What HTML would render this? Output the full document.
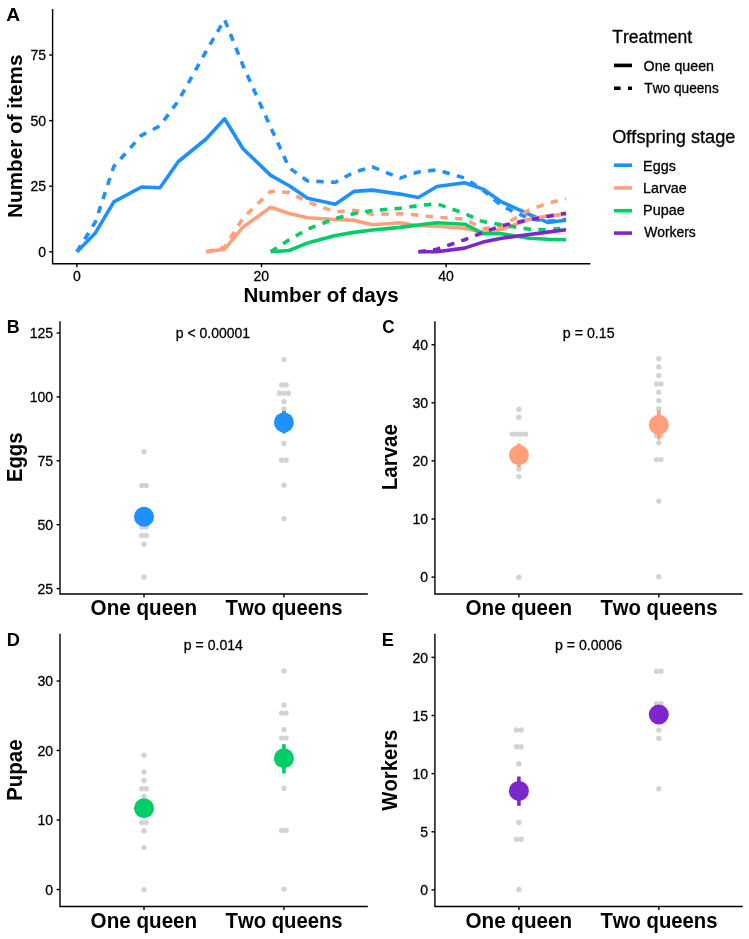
<!DOCTYPE html><html><head><meta charset="utf-8"><style>html,body{margin:0;padding:0;background:#fff;}svg{display:block;}svg{will-change:transform;}text{font-family:"Liberation Sans", sans-serif;font-kerning:none;}</style></head><body>
<svg width="749" height="939" viewBox="0 0 749 939">
<rect width="749" height="939" fill="#fff"/>
<g fill="none" stroke-linejoin="round" stroke-linecap="butt">
<polyline points="76.9,251.8 95.4,232.9 113.8,201.9 141.5,187.0 160.0,187.8 178.4,161.5 206.1,139.0 224.6,118.8 243.0,148.7 270.7,175.4 289.2,185.7 307.6,198.3 335.3,204.3 353.8,191.4 372.3,190.1 400.0,194.1 418.4,197.5 436.9,186.5 464.6,182.8 483.0,189.1 501.5,201.9 529.2,214.3 547.6,222.4 566.1,220.3" stroke="#1E90FF" stroke-width="3.6" />
<polyline points="76.9,251.8 95.4,221.9 113.8,166.5 141.5,135.3 160.0,125.8 178.4,100.7 206.1,51.3 224.6,19.6 243.0,65.5 270.7,127.4 289.2,167.8 307.6,181.0 335.3,182.3 353.8,172.3 372.3,166.8 400.0,178.1 418.4,172.0 436.9,169.9 464.6,178.1 483.0,190.1 501.5,205.9 529.2,218.7 547.6,221.4 566.1,219.3" stroke="#1E90FF" stroke-width="3.6" stroke-dasharray="7.4 7.4"/>
<polyline points="206.1,251.8 224.6,249.2 243.0,227.1 270.7,207.2 289.2,213.5 307.6,217.7 335.3,219.5 353.8,220.3 372.3,224.8 400.0,222.7 418.4,225.8 436.9,226.3 464.6,228.2 483.0,232.6 501.5,229.5 529.2,219.3 547.6,215.9 566.1,214.3" stroke="#FFA07A" stroke-width="3.6" />
<polyline points="206.1,251.8 224.6,247.1 243.0,218.0 270.7,191.2 289.2,192.5 307.6,201.9 335.3,211.9 353.8,210.3 372.3,214.3 400.0,213.8 418.4,215.1 436.9,217.2 464.6,219.3 483.0,228.7 501.5,226.1 529.2,210.1 547.6,203.3 566.1,198.8" stroke="#FFA07A" stroke-width="3.6" stroke-dasharray="7.4 7.4"/>
<polyline points="270.7,251.8 289.2,250.5 307.6,242.9 335.3,235.5 353.8,232.4 372.3,230.0 400.0,227.4 418.4,225.0 436.9,222.7 464.6,224.2 483.0,233.7 501.5,233.7 529.2,238.2 547.6,239.2 566.1,239.7" stroke="#00CD66" stroke-width="3.6" />
<polyline points="270.7,251.8 289.2,239.7 307.6,229.2 335.3,218.5 353.8,213.8 372.3,210.6 400.0,208.2 418.4,205.6 436.9,203.8 464.6,213.5 483.0,221.6 501.5,224.8 529.2,229.2 547.6,229.8 566.1,227.7" stroke="#00CD66" stroke-width="3.6" stroke-dasharray="7.4 7.4"/>
<polyline points="418.4,251.8 436.9,251.8 464.6,248.1 483.0,242.1 501.5,238.2 529.2,234.5 547.6,232.1 566.1,229.8" stroke="#7D26CD" stroke-width="3.6" />
<polyline points="418.4,251.8 436.9,249.2 464.6,239.7 483.0,232.6 501.5,225.8 529.2,219.8 547.6,216.4 566.1,213.2" stroke="#7D26CD" stroke-width="3.6" stroke-dasharray="7.4 7.4"/>
</g>
<g stroke="#000" stroke-width="1.4" fill="none" stroke-linecap="butt">
<path d="M52.6,9.0 V263.8 H590.4"/>
<line x1="49.2" x2="52.6" y1="251.8" y2="251.8"/>
<line x1="49.2" x2="52.6" y1="186.2" y2="186.2"/>
<line x1="49.2" x2="52.6" y1="120.6" y2="120.6"/>
<line x1="49.2" x2="52.6" y1="55.0" y2="55.0"/>
<line x1="76.9" x2="76.9" y1="263.8" y2="267.2"/>
<line x1="261.5" x2="261.5" y1="263.8" y2="267.2"/>
<line x1="446.1" x2="446.1" y1="263.8" y2="267.2"/>
</g>
<text transform="translate(38.23,257.05) scale(0.9500,1)" font-size="14.8" stroke="#000" stroke-width="0.3" fill="#000">0</text>
<text transform="translate(30.45,191.45) scale(0.9500,1)" font-size="14.8" stroke="#000" stroke-width="0.3" fill="#000">25</text>
<text transform="translate(30.41,125.85) scale(0.9500,1)" font-size="14.8" stroke="#000" stroke-width="0.3" fill="#000">50</text>
<text transform="translate(30.45,60.25) scale(0.9500,1)" font-size="14.8" stroke="#000" stroke-width="0.3" fill="#000">75</text>
<text transform="translate(72.99,280.60) scale(0.9500,1)" font-size="14.8" stroke="#000" stroke-width="0.3" fill="#000">0</text>
<text transform="translate(253.50,280.60) scale(0.9500,1)" font-size="14.8" stroke="#000" stroke-width="0.3" fill="#000">20</text>
<text transform="translate(438.29,280.60) scale(0.9500,1)" font-size="14.8" stroke="#000" stroke-width="0.3" fill="#000">40</text>
<text transform="translate(243.38,302.30) scale(1.0026,1)" font-size="20.5" font-weight="bold" fill="#000">Number of days</text>
<text transform="translate(22.00,217.94) rotate(-90) scale(0.9911,1)" font-size="20.9" font-weight="bold">Number of items</text>
<text transform="translate(6.17,20.80) scale(1.0507,1)" font-size="18.3" font-weight="bold" fill="#000">A</text>
<text transform="translate(612.26,43.00) scale(0.9965,1)" font-size="17.6" stroke="#000" stroke-width="0.3" fill="#000">Treatment</text>
<line x1="614" x2="632" y1="65.4" y2="65.4" stroke="#000" stroke-width="3.6"/>
<line x1="614" x2="632" y1="88.2" y2="88.2" stroke="#000" stroke-width="3.6" stroke-dasharray="6.6 7.4"/>
<text transform="translate(643.58,70.80) scale(1.0176,1)" font-size="14" stroke="#000" stroke-width="0.3" fill="#000">One queen</text>
<text transform="translate(644.34,92.90) scale(0.9768,1)" font-size="14" stroke="#000" stroke-width="0.3" fill="#000">Two queens</text>
<text transform="translate(612.19,143.20) scale(1.0337,1)" font-size="17.6" stroke="#000" stroke-width="0.3" fill="#000">Offspring stage</text>
<line x1="614" x2="632" y1="165.2" y2="165.2" stroke="#1E90FF" stroke-width="3.6"/>
<text transform="translate(643.07,170.50) scale(1.0279,1)" font-size="14" stroke="#000" stroke-width="0.3" fill="#000">Eggs</text>
<line x1="614" x2="632" y1="187.9" y2="187.9" stroke="#FFA07A" stroke-width="3.6"/>
<text transform="translate(643.08,192.50) scale(1.0186,1)" font-size="14" stroke="#000" stroke-width="0.3" fill="#000">Larvae</text>
<line x1="614" x2="632" y1="210.7" y2="210.7" stroke="#00CD66" stroke-width="3.6"/>
<text transform="translate(643.07,215.00) scale(1.0307,1)" font-size="14" stroke="#000" stroke-width="0.3" fill="#000">Pupae</text>
<line x1="614" x2="632" y1="233.1" y2="233.1" stroke="#7D26CD" stroke-width="3.6"/>
<text transform="translate(644.19,237.40) scale(0.9914,1)" font-size="14" stroke="#000" stroke-width="0.3" fill="#000">Workers</text>
<g stroke="#000" stroke-width="1.4" fill="none">
<path d="M60.0,321.2 V594.0 H367.8"/>
<line x1="56.6" x2="60.0" y1="588.6" y2="588.6"/>
<line x1="56.6" x2="60.0" y1="524.7" y2="524.7"/>
<line x1="56.6" x2="60.0" y1="460.8" y2="460.8"/>
<line x1="56.6" x2="60.0" y1="396.9" y2="396.9"/>
<line x1="56.6" x2="60.0" y1="333.0" y2="333.0"/>
<line x1="144.0" x2="144.0" y1="594.0" y2="597.4"/>
<line x1="283.9" x2="283.9" y1="594.0" y2="597.4"/>
</g>
<text transform="translate(37.55,593.95) scale(0.9500,1)" font-size="14.8" stroke="#000" stroke-width="0.3" fill="#000">25</text>
<text transform="translate(37.51,530.05) scale(0.9500,1)" font-size="14.8" stroke="#000" stroke-width="0.3" fill="#000">50</text>
<text transform="translate(37.55,466.15) scale(0.9500,1)" font-size="14.8" stroke="#000" stroke-width="0.3" fill="#000">75</text>
<text transform="translate(29.69,402.25) scale(0.9500,1)" font-size="14.8" stroke="#000" stroke-width="0.3" fill="#000">100</text>
<text transform="translate(29.73,338.35) scale(0.9500,1)" font-size="14.8" stroke="#000" stroke-width="0.3" fill="#000">125</text>
<text transform="translate(90.60,615.20) scale(0.9597,1)" font-size="21.5" font-weight="bold" fill="#000">One queen</text>
<text transform="translate(225.52,615.20) scale(0.9431,1)" font-size="21.5" font-weight="bold" fill="#000">Two queens</text>
<text transform="translate(22.00,482.11) rotate(-90) scale(0.9588,1)" font-size="21.2" font-weight="bold">Eggs</text>
<text transform="translate(6.85,333.30) scale(0.9767,1)" font-size="18.3" font-weight="bold" fill="#000">B</text>
<text transform="translate(175.75,337.50) scale(0.9594,1)" font-size="14.6" stroke="#000" stroke-width="0.3" fill="#000">p &lt; 0.00001</text>
<g fill="#D3D3D3">
<circle cx="144.0" cy="451.7" r="2.7"/>
<circle cx="141.8" cy="485.5" r="2.7"/>
<circle cx="146.2" cy="485.5" r="2.7"/>
<circle cx="144.0" cy="519.0" r="2.7"/>
<circle cx="141.8" cy="527.0" r="2.7"/>
<circle cx="146.2" cy="527.0" r="2.7"/>
<circle cx="141.8" cy="535.5" r="2.7"/>
<circle cx="146.2" cy="535.5" r="2.7"/>
<circle cx="144.0" cy="544.2" r="2.7"/>
<circle cx="144.0" cy="577.0" r="2.7"/>
<circle cx="283.9" cy="359.6" r="2.7"/>
<circle cx="281.6" cy="384.9" r="2.7"/>
<circle cx="286.1" cy="384.9" r="2.7"/>
<circle cx="279.4" cy="393.3" r="2.7"/>
<circle cx="283.9" cy="393.3" r="2.7"/>
<circle cx="288.4" cy="393.3" r="2.7"/>
<circle cx="283.9" cy="401.7" r="2.7"/>
<circle cx="283.9" cy="409.0" r="2.7"/>
<circle cx="283.9" cy="443.5" r="2.7"/>
<circle cx="281.6" cy="460.2" r="2.7"/>
<circle cx="286.1" cy="460.2" r="2.7"/>
<circle cx="283.9" cy="485.2" r="2.7"/>
<circle cx="283.9" cy="518.6" r="2.7"/>
</g>
<circle cx="144.0" cy="516.7" r="10" fill="#1E90FF"/>
<line x1="283.9" x2="283.9" y1="410.9" y2="433.5" stroke="#1E90FF" stroke-width="3.6"/>
<circle cx="283.9" cy="422.4" r="10" fill="#1E90FF"/>
<g stroke="#000" stroke-width="1.4" fill="none">
<path d="M434.9,321.2 V594.0 H742.7"/>
<line x1="431.5" x2="434.9" y1="577.1" y2="577.1"/>
<line x1="431.5" x2="434.9" y1="519.0" y2="519.0"/>
<line x1="431.5" x2="434.9" y1="460.9" y2="460.9"/>
<line x1="431.5" x2="434.9" y1="402.8" y2="402.8"/>
<line x1="431.5" x2="434.9" y1="344.7" y2="344.7"/>
<line x1="518.9" x2="518.9" y1="594.0" y2="597.4"/>
<line x1="658.8" x2="658.8" y1="594.0" y2="597.4"/>
</g>
<text transform="translate(420.23,582.45) scale(0.9500,1)" font-size="14.8" stroke="#000" stroke-width="0.3" fill="#000">0</text>
<text transform="translate(412.41,524.35) scale(0.9500,1)" font-size="14.8" stroke="#000" stroke-width="0.3" fill="#000">10</text>
<text transform="translate(412.41,466.25) scale(0.9500,1)" font-size="14.8" stroke="#000" stroke-width="0.3" fill="#000">20</text>
<text transform="translate(412.41,408.15) scale(0.9500,1)" font-size="14.8" stroke="#000" stroke-width="0.3" fill="#000">30</text>
<text transform="translate(412.41,350.05) scale(0.9500,1)" font-size="14.8" stroke="#000" stroke-width="0.3" fill="#000">40</text>
<text transform="translate(465.50,615.20) scale(0.9597,1)" font-size="21.5" font-weight="bold" fill="#000">One queen</text>
<text transform="translate(600.42,615.20) scale(0.9431,1)" font-size="21.5" font-weight="bold" fill="#000">Two queens</text>
<text transform="translate(397.10,490.32) rotate(-90) scale(0.9695,1)" font-size="21.2" font-weight="bold">Larvae</text>
<text transform="translate(382.25,333.30) scale(0.9361,1)" font-size="18.3" font-weight="bold" fill="#000">C</text>
<text transform="translate(562.83,337.60) scale(0.9744,1)" font-size="14.6" stroke="#000" stroke-width="0.3" fill="#000">p = 0.15</text>
<g fill="#D3D3D3">
<circle cx="518.9" cy="409.2" r="2.7"/>
<circle cx="518.9" cy="417.3" r="2.7"/>
<circle cx="512.1" cy="434.1" r="2.7"/>
<circle cx="516.6" cy="434.1" r="2.7"/>
<circle cx="521.1" cy="434.1" r="2.7"/>
<circle cx="525.6" cy="434.1" r="2.7"/>
<circle cx="518.9" cy="468.9" r="2.7"/>
<circle cx="518.9" cy="476.6" r="2.7"/>
<circle cx="518.9" cy="577.2" r="2.7"/>
<circle cx="658.8" cy="358.7" r="2.7"/>
<circle cx="658.8" cy="367.0" r="2.7"/>
<circle cx="658.8" cy="375.6" r="2.7"/>
<circle cx="656.5" cy="383.9" r="2.7"/>
<circle cx="661.0" cy="383.9" r="2.7"/>
<circle cx="658.8" cy="392.2" r="2.7"/>
<circle cx="658.8" cy="400.6" r="2.7"/>
<circle cx="658.8" cy="408.8" r="2.7"/>
<circle cx="656.5" cy="435.4" r="2.7"/>
<circle cx="661.0" cy="435.4" r="2.7"/>
<circle cx="658.8" cy="442.7" r="2.7"/>
<circle cx="656.5" cy="459.6" r="2.7"/>
<circle cx="661.0" cy="459.6" r="2.7"/>
<circle cx="658.8" cy="501.1" r="2.7"/>
<circle cx="658.8" cy="576.8" r="2.7"/>
</g>
<line x1="518.9" x2="518.9" y1="443.6" y2="467.3" stroke="#FFA07A" stroke-width="3.6"/>
<circle cx="518.9" cy="455.1" r="10" fill="#FFA07A"/>
<line x1="658.8" x2="658.8" y1="410.1" y2="439.5" stroke="#FFA07A" stroke-width="3.6"/>
<circle cx="658.8" cy="424.8" r="10" fill="#FFA07A"/>
<g stroke="#000" stroke-width="1.4" fill="none">
<path d="M60.0,633.7 V906.5 H367.8"/>
<line x1="56.6" x2="60.0" y1="889.5" y2="889.5"/>
<line x1="56.6" x2="60.0" y1="820.0" y2="820.0"/>
<line x1="56.6" x2="60.0" y1="750.5" y2="750.5"/>
<line x1="56.6" x2="60.0" y1="681.0" y2="681.0"/>
<line x1="144.0" x2="144.0" y1="906.5" y2="909.9"/>
<line x1="283.9" x2="283.9" y1="906.5" y2="909.9"/>
</g>
<text transform="translate(45.33,894.85) scale(0.9500,1)" font-size="14.8" stroke="#000" stroke-width="0.3" fill="#000">0</text>
<text transform="translate(37.51,825.35) scale(0.9500,1)" font-size="14.8" stroke="#000" stroke-width="0.3" fill="#000">10</text>
<text transform="translate(37.51,755.85) scale(0.9500,1)" font-size="14.8" stroke="#000" stroke-width="0.3" fill="#000">20</text>
<text transform="translate(37.51,686.35) scale(0.9500,1)" font-size="14.8" stroke="#000" stroke-width="0.3" fill="#000">30</text>
<text transform="translate(90.60,927.70) scale(0.9597,1)" font-size="21.5" font-weight="bold" fill="#000">One queen</text>
<text transform="translate(225.52,927.70) scale(0.9431,1)" font-size="21.5" font-weight="bold" fill="#000">Two queens</text>
<text transform="translate(22.10,800.82) rotate(-90) scale(0.9662,1)" font-size="21.2" font-weight="bold">Pupae</text>
<text transform="translate(6.83,645.80) scale(0.9979,1)" font-size="18.3" font-weight="bold" fill="#000">D</text>
<text transform="translate(183.84,650.40) scale(0.9629,1)" font-size="14.6" stroke="#000" stroke-width="0.3" fill="#000">p = 0.014</text>
<g fill="#D3D3D3">
<circle cx="144.0" cy="755.2" r="2.7"/>
<circle cx="144.0" cy="771.9" r="2.7"/>
<circle cx="144.0" cy="780.5" r="2.7"/>
<circle cx="141.8" cy="788.7" r="2.7"/>
<circle cx="146.2" cy="788.7" r="2.7"/>
<circle cx="144.0" cy="796.5" r="2.7"/>
<circle cx="141.8" cy="822.6" r="2.7"/>
<circle cx="146.2" cy="822.6" r="2.7"/>
<circle cx="144.0" cy="830.8" r="2.7"/>
<circle cx="144.0" cy="847.6" r="2.7"/>
<circle cx="144.0" cy="889.7" r="2.7"/>
<circle cx="283.9" cy="671.0" r="2.7"/>
<circle cx="283.9" cy="704.9" r="2.7"/>
<circle cx="281.6" cy="713.1" r="2.7"/>
<circle cx="286.1" cy="713.1" r="2.7"/>
<circle cx="283.9" cy="729.6" r="2.7"/>
<circle cx="281.6" cy="738.1" r="2.7"/>
<circle cx="286.1" cy="738.1" r="2.7"/>
<circle cx="283.9" cy="788.3" r="2.7"/>
<circle cx="281.6" cy="830.4" r="2.7"/>
<circle cx="286.1" cy="830.4" r="2.7"/>
<circle cx="283.9" cy="889.1" r="2.7"/>
</g>
<circle cx="144.0" cy="808.2" r="10" fill="#00CD66"/>
<line x1="283.9" x2="283.9" y1="744.2" y2="773.5" stroke="#00CD66" stroke-width="3.6"/>
<circle cx="283.9" cy="758.2" r="10" fill="#00CD66"/>
<g stroke="#000" stroke-width="1.4" fill="none">
<path d="M434.9,633.7 V906.5 H742.7"/>
<line x1="431.5" x2="434.9" y1="889.9" y2="889.9"/>
<line x1="431.5" x2="434.9" y1="831.8" y2="831.8"/>
<line x1="431.5" x2="434.9" y1="773.6" y2="773.6"/>
<line x1="431.5" x2="434.9" y1="715.5" y2="715.5"/>
<line x1="431.5" x2="434.9" y1="657.4" y2="657.4"/>
<line x1="518.9" x2="518.9" y1="906.5" y2="909.9"/>
<line x1="658.8" x2="658.8" y1="906.5" y2="909.9"/>
</g>
<text transform="translate(420.23,895.25) scale(0.9500,1)" font-size="14.8" stroke="#000" stroke-width="0.3" fill="#000">0</text>
<text transform="translate(420.27,837.12) scale(0.9500,1)" font-size="14.8" stroke="#000" stroke-width="0.3" fill="#000">5</text>
<text transform="translate(412.41,779.00) scale(0.9500,1)" font-size="14.8" stroke="#000" stroke-width="0.3" fill="#000">10</text>
<text transform="translate(412.45,720.88) scale(0.9500,1)" font-size="14.8" stroke="#000" stroke-width="0.3" fill="#000">15</text>
<text transform="translate(412.41,662.75) scale(0.9500,1)" font-size="14.8" stroke="#000" stroke-width="0.3" fill="#000">20</text>
<text transform="translate(465.50,927.70) scale(0.9597,1)" font-size="21.5" font-weight="bold" fill="#000">One queen</text>
<text transform="translate(600.42,927.70) scale(0.9431,1)" font-size="21.5" font-weight="bold" fill="#000">Two queens</text>
<text transform="translate(397.20,810.67) rotate(-90) scale(0.9554,1)" font-size="21.2" font-weight="bold">Workers</text>
<text transform="translate(381.73,645.80) scale(0.9935,1)" font-size="18.3" font-weight="bold" fill="#000">E</text>
<text transform="translate(555.04,650.30) scale(0.9671,1)" font-size="14.6" stroke="#000" stroke-width="0.3" fill="#000">p = 0.0006</text>
<g fill="#D3D3D3">
<circle cx="516.6" cy="730.0" r="2.7"/>
<circle cx="521.1" cy="730.0" r="2.7"/>
<circle cx="516.6" cy="746.8" r="2.7"/>
<circle cx="521.1" cy="746.8" r="2.7"/>
<circle cx="518.9" cy="763.7" r="2.7"/>
<circle cx="518.9" cy="822.5" r="2.7"/>
<circle cx="516.6" cy="839.3" r="2.7"/>
<circle cx="521.1" cy="839.3" r="2.7"/>
<circle cx="518.9" cy="889.5" r="2.7"/>
<circle cx="656.5" cy="671.2" r="2.7"/>
<circle cx="661.0" cy="671.2" r="2.7"/>
<circle cx="656.5" cy="703.7" r="2.7"/>
<circle cx="661.0" cy="703.7" r="2.7"/>
<circle cx="658.8" cy="730.1" r="2.7"/>
<circle cx="658.8" cy="738.4" r="2.7"/>
<circle cx="658.8" cy="788.7" r="2.7"/>
</g>
<line x1="518.9" x2="518.9" y1="776.5" y2="805.8" stroke="#7D26CD" stroke-width="3.6"/>
<circle cx="518.9" cy="790.9" r="10" fill="#7D26CD"/>
<circle cx="658.8" cy="714.5" r="10" fill="#7D26CD"/>
</svg></body></html>
